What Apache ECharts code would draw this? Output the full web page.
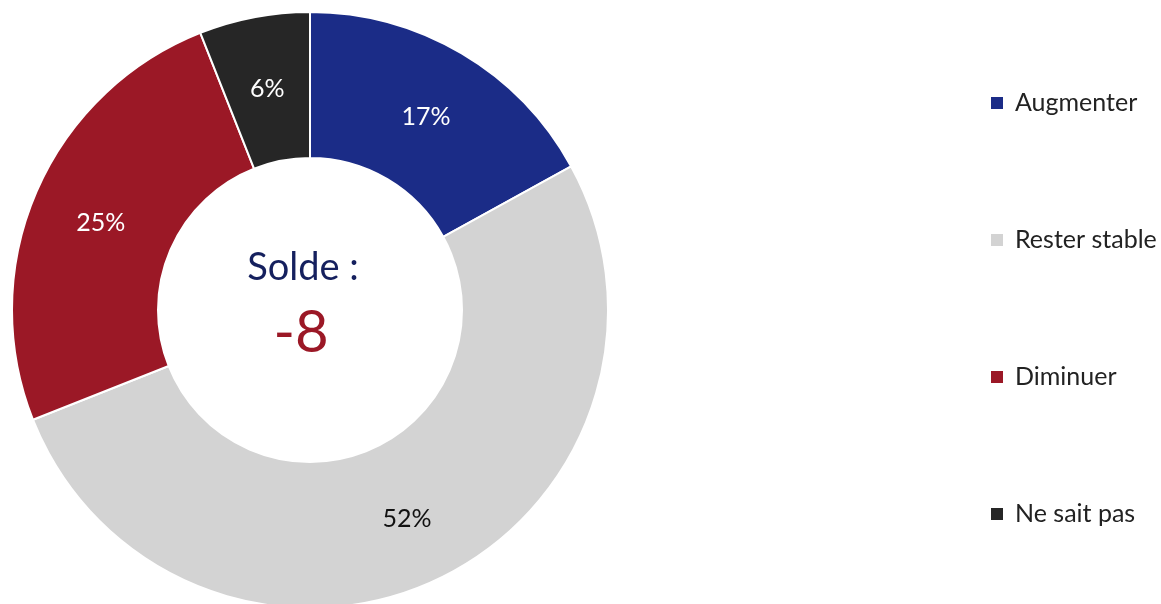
<!DOCTYPE html>
<html><head><meta charset="utf-8">
<script src="https://cdn.jsdelivr.net/npm/echarts@6/dist/echarts.min.js"></script>
<style>html,body{margin:0;padding:0;background:#fff}#c{width:1161px;height:604px}</style>
</head><body><div id="c"></div>
<script>
const categories = ['Augmenter', 'Rester stable', 'Diminuer', 'Ne sait pas'];
const values = [17, 52, 25, 6];
const colors = ['#1B2C87', '#D3D3D3', '#9B1826', '#262626'];
const labelColors = ['#ffffff', '#111111', '#ffffff', '#ffffff'];
const centerTitle = 'Solde :';
const centerValue = '-8';
const FONT = 'Futura, "Century Gothic", Lato, sans-serif';

const chart = echarts.init(document.getElementById('c'), null, {renderer: 'canvas'});
chart.setOption({
  animation: false,
  color: colors,
  legend: {
    orient: 'vertical', left: 989, top: 90, padding: 0,
    icon: 'rect', itemWidth: 14, itemHeight: 14, itemGap: 111,
    textStyle: {fontFamily: FONT, fontSize: 25, color: '#222', lineHeight: 26, padding: [0,0,0,6]},
    data: categories
  },
  graphic: [
    {type: 'text', x: 303, y: 268, style: {text: centerTitle, fontFamily: FONT, fontSize: 38, fill: '#15205E', align: 'center', verticalAlign: 'middle'}},
    {type: 'text', x: 301, y: 333, style: {text: centerValue, fontFamily: FONT, fontSize: 58, fill: '#9B1826', align: 'center', verticalAlign: 'middle'}}
  ],
  series: [{
    type: 'pie',
    center: [310, 310],
    radius: [152, 298],
    startAngle: 90,
    clockwise: true,
    avoidLabelOverlap: false,
    itemStyle: {borderColor: '#fff', borderWidth: 2},
    label: {
      show: true, position: 'inside',
      fontFamily: FONT, fontSize: 25, offset: [0, 3],
      formatter: p => p.value + '%'
    },
    labelLine: {show: false},
    emphasis: {disabled: true},
    data: categories.map((n, i) => ({
      name: n, value: values[i],
      label: {color: labelColors[i]}
    }))
  }]
});
</script></body></html>
